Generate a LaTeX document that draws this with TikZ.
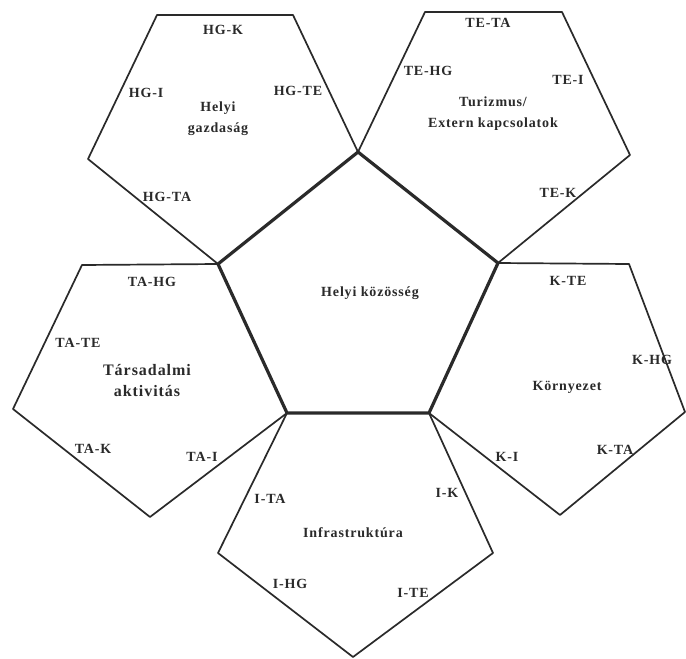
\documentclass[tikz,border=0pt]{standalone}
\usepackage{fontspec}
\setmainfont{Liberation Serif}[LetterSpace=6]
\definecolor{ink}{HTML}{2A2A2A}
\begin{document}
\begin{tikzpicture}[x=1pt,y=-1pt,
  thinpoly/.style={draw=ink,line width=1.7pt,line join=round},
  thickpoly/.style={draw=ink,line width=3.2pt,line join=round},
  lab/.style={text=ink,font=\fontsize{14}{16}\selectfont\bfseries,inner sep=0pt},
  ttl/.style={text=ink,font=\fontsize{14}{21}\selectfont\bfseries,inner sep=0pt,align=center}]
\useasboundingbox[fill=white] (0,0) rectangle (686,659);
% central pentagon vertices
\coordinate (c1) at (358,152);
\coordinate (c2) at (498,263);
\coordinate (c3) at (429,413);
\coordinate (c4) at (287,413);
\coordinate (c5) at (218,264);
% HG pentagon
\coordinate (h1) at (157,15);
\coordinate (h2) at (293,15);
\coordinate (h5) at (88,159);
% TE pentagon
\coordinate (t1) at (425,12);
\coordinate (t2) at (562,12);
\coordinate (t3) at (630,155);
% TA pentagon
\coordinate (a1) at (82,265);
\coordinate (a4) at (150,517);
\coordinate (a5) at (13,409);
% K pentagon
\coordinate (k2) at (629,264);
\coordinate (k3) at (685,412);
\coordinate (k4) at (560,515);
% I pentagon
\coordinate (i3) at (493,553);
\coordinate (i4) at (353,657);
\coordinate (i5) at (218,553);
% outer pentagons
\draw[thinpoly] (h1) -- (h2) -- (c1) -- (c5) -- (h5) -- cycle;
\draw[thinpoly] (t1) -- (t2) -- (t3) -- (c2) -- (c1) -- cycle;
\draw[thinpoly] (a1) -- (c5) -- (c4) -- (a4) -- (a5) -- cycle;
\draw[thinpoly] (c2) -- (k2) -- (k3) -- (k4) -- (c3) -- cycle;
\draw[thinpoly] (c4) -- (c3) -- (i3) -- (i4) -- (i5) -- cycle;
\draw[draw=ink,line width=2.3pt] (t1) -- (t2);
% central pentagon
\draw[thickpoly] (c1) -- (c2) -- (c3) -- (c4) -- (c5) -- cycle;
% central title
\node[ttl] (hk) at (370,293) {Helyi közösség};
% HG
\node[ttl] (hgt) at (218,119) {Helyi\\gazdaság};
\node[lab] (hgk) at (223,30) {HG-K};
\node[lab] (hgi) at (146,93) {HG-I};
\node[lab] (hgte) at (298,91) {HG-TE};
\node[lab] (hgta) at (167,197) {HG-TA};
% TE
\node[ttl] (tet) at (493,114) {Turizmus/\\Extern kapcsolatok};
\node[lab] (teta) at (488,23) {TE-TA};
\node[lab] (tehg) at (428,71) {TE-HG};
\node[lab] (tei) at (568,80) {TE-I};
\node[lab] (tek) at (558,193) {TE-K};
% TA
\node[ttl,font=\fontsize{16}{21}\selectfont\bfseries] (tat) at (147,381) {Társadalmi\\aktivitás};
\node[lab] (tahg) at (152,282) {TA-HG};
\node[lab] (tate) at (78,343) {TA-TE};
\node[lab] (tak) at (93,449) {TA-K};
\node[lab] (tai) at (202,457) {TA-I};
% K
\node[ttl] (kt) at (567,387) {Környezet};
\node[lab] (kte) at (568,281) {K-TE};
\node[lab] (khg) at (652,360) {K-HG};
\node[lab] (ki) at (507,457) {K-I};
\node[lab] (kta) at (615,450) {K-TA};
% I
\node[ttl] (it) at (353,533) {Infrastruktúra};
\node[lab] (ita) at (270,499) {I-TA};
\node[lab] (ik) at (447,493) {I-K};
\node[lab] (ihg) at (290,584) {I-HG};
\node[lab] (ite) at (413,593) {I-TE};
\end{tikzpicture}
\end{document}
